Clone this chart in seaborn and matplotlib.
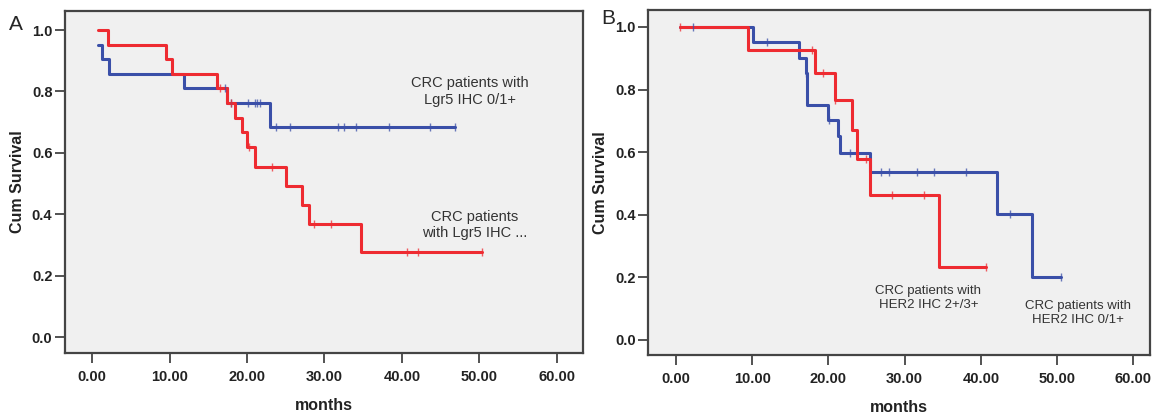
import numpy as np
import pandas as pd
import matplotlib
matplotlib.use("Agg")
import matplotlib.pyplot as plt
import seaborn as sns

# ---------------- data ----------------
# Panel A (Lgr5)
a_red_t = [0.8, 2.1, 9.6, 10.3, 16.1, 17.4, 18.5, 19.4, 20.0, 21.1, 25.0, 27.1, 28.0, 34.7, 50.4]
a_red_s = [1.0, 0.952, 0.905, 0.857, 0.810, 0.762, 0.714, 0.667, 0.619, 0.553, 0.491, 0.430, 0.367, 0.276, 0.276]
a_red_c = [16.5, 17.9, 20.3, 23.2, 28.6, 30.8, 40.7, 42.1, 50.4]

a_blue_t = [0.8, 1.3, 2.2, 11.9, 17.4, 23.0, 46.9]
a_blue_s = [0.952, 0.905, 0.857, 0.810, 0.762, 0.683, 0.683]
a_blue_c = [17.2, 17.9, 20.1, 21.0, 21.3, 21.7, 23.7, 25.6, 31.7, 32.5, 34.1, 38.3, 43.7, 46.9]

# Panel B (HER2)
b_red_t = [0.5, 9.5, 18.3, 20.9, 23.1, 23.7, 25.5, 34.5, 40.7]
b_red_s = [1.0, 0.927, 0.852, 0.767, 0.671, 0.577, 0.462, 0.232, 0.232]
b_red_c = [0.5, 17.9, 19.3, 20.9, 24.9, 28.4, 32.5, 40.7]

b_blue_t = [0.5, 10.1, 16.1, 17.0, 17.2, 19.9, 21.2, 21.5, 25.5, 42.1, 46.7, 50.5]
b_blue_s = [1.0, 0.951, 0.901, 0.854, 0.752, 0.704, 0.652, 0.596, 0.535, 0.401, 0.201, 0.201]
b_blue_c = [2.2, 11.9, 17.0, 20.1, 22.8, 26.9, 27.9, 31.6, 33.9, 38.1, 43.8, 50.5]

x_ticks = [0, 10, 20, 30, 40, 50, 60]
y_ticks = [0.0, 0.2, 0.4, 0.6, 0.8, 1.0]

a_labels = ["CRC patients with\nLgr5 IHC 0/1+", "CRC patients\nwith Lgr5 IHC ..."]
b_labels = ["CRC patients with\nHER2 IHC 2+/3+", "CRC patients with\nHER2 IHC 0/1+"]

RED = "#ee2b31"
BLUE = "#3a4fa8"
BG = "#f0f0f0"

sns.set_style("white")
plt.rcParams['font.family'] = ['Liberation Sans', 'DejaVu Sans']

fig = plt.figure(figsize=(11.54, 4.13), dpi=100)
W, H = 1154, 413


def add_ax(l, t, r, b):
    return fig.add_axes([l / W, 1 - b / H, (r - l) / W, (b - t) / H])


def step_value(t, s, x):
    idx = np.searchsorted(np.asarray(t), x, side="right") - 1
    idx = max(idx, 0)
    return s[idx]


def draw_curve(ax, t, s, c, color):
    df = pd.DataFrame({"t": t, "s": s})
    sns.lineplot(data=df, x="t", y="s", ax=ax, color=color, linewidth=2.2,
                 drawstyle="steps-post", estimator=None, sort=False)
    cdf = pd.DataFrame({"t": c, "s": [step_value(t, s, x) for x in c]})
    sns.scatterplot(data=cdf, x="t", y="s", ax=ax, marker="|", color=color,
                    s=40, linewidth=1.0, alpha=0.75, zorder=5)


def style_ax(ax, xlim, ylim):
    ax.set_facecolor(BG)
    ax.set_xlim(*xlim)
    ax.set_ylim(*ylim)
    ax.set_xticks(x_ticks)
    ax.set_xticklabels([f"{v:.2f}" for v in x_ticks], fontsize=10.5, fontweight="bold", color="#222222")
    ax.set_yticks(y_ticks)
    ax.set_yticklabels([f"{v:.1f}" for v in y_ticks], fontsize=10.5, fontweight="bold", color="#222222")
    ax.tick_params(axis="both", which="major", bottom=True, left=True, direction="out",
                   length=7, width=1.3, color="#444444", pad=2)
    ax.tick_params(axis="x", pad=5)
    for sp in ax.spines.values():
        sp.set_color("#444444")
        sp.set_linewidth(1.6)
    ax.set_xlabel("months", fontsize=11.5, fontweight="bold", color="#222222", labelpad=10)
    ax.set_ylabel("Cum Survival", fontsize=11.5, fontweight="bold", color="#222222", labelpad=5)


narrow = ['Liberation Sans Narrow', 'Liberation Sans', 'DejaVu Sans']

# Panel A
axA = add_ax(65, 11, 583, 353)
draw_curve(axA, a_blue_t, a_blue_s, a_blue_c, BLUE)
draw_curve(axA, a_red_t, a_red_s, a_red_c, RED)
style_ax(axA, (-3.5, 63.4), (-0.052, 1.062))
axA.text(48.8, 0.80, a_labels[0], ha="center", va="center", fontsize=10.5, color="#333333", family=narrow, linespacing=1.2)
axA.text(49.4, 0.365, a_labels[1], ha="center", va="center", fontsize=10.5, color="#333333", family=narrow, linespacing=1.2)
fig.text(9 / W, 1 - 25 / H, "A", fontsize=15, ha="left", va="center")

# Panel B
axB = add_ax(648, 10, 1150, 355)
draw_curve(axB, b_blue_t, b_blue_s, b_blue_c, BLUE)
draw_curve(axB, b_red_t, b_red_s, b_red_c, RED)
style_ax(axB, (-3.68, 62.2), (-0.048, 1.054))
axB.text(33.1, 0.134, b_labels[0], ha="center", va="center", fontsize=9.5, color="#333333", family=narrow, linespacing=1.2)
axB.text(52.8, 0.086, b_labels[1], ha="center", va="center", fontsize=9.5, color="#333333", family=narrow, linespacing=1.2)
fig.text(601 / W, 1 - 19 / H, "B", fontsize=15, ha="left", va="center")

fig.savefig("out.png", dpi=100, facecolor="white")
